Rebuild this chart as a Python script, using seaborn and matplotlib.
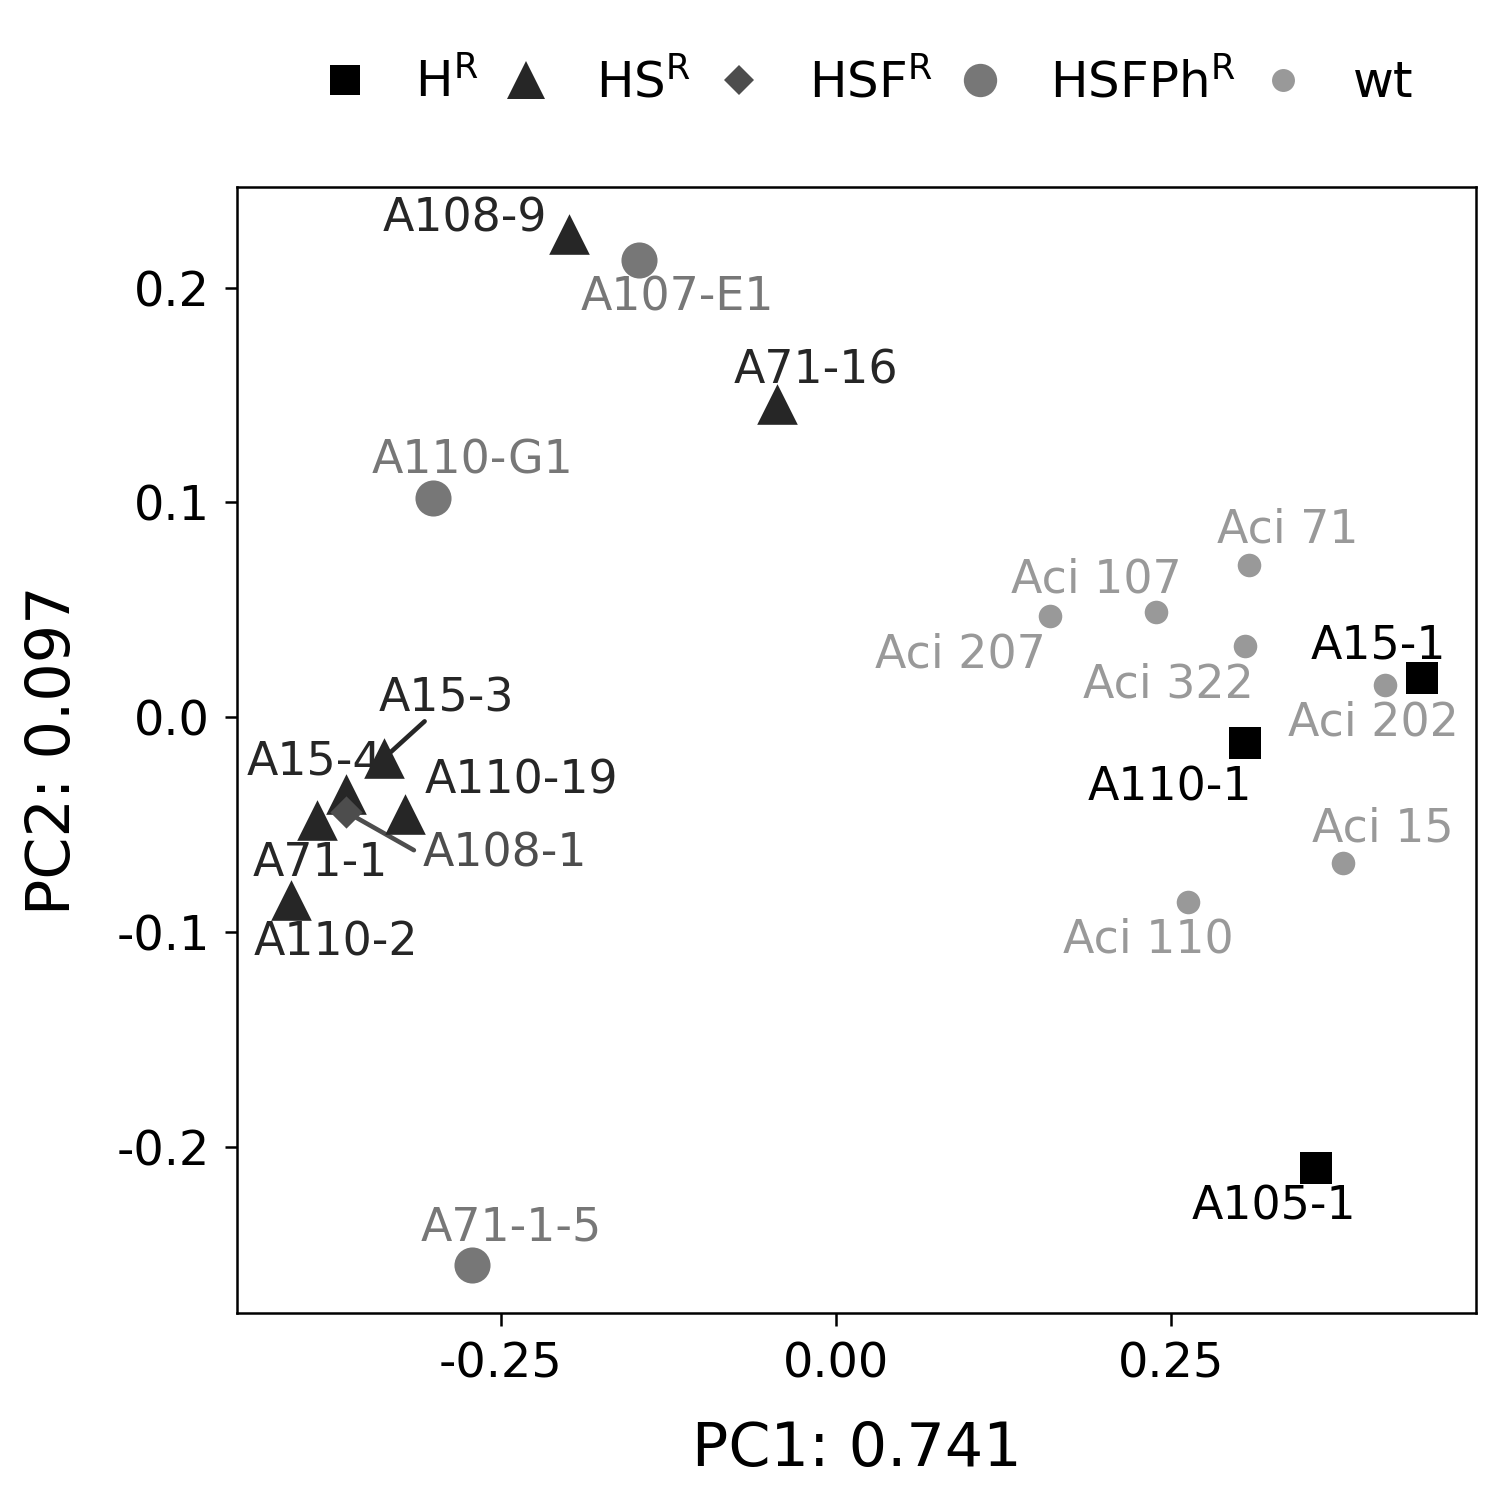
import matplotlib
matplotlib.use("Agg")
import matplotlib.pyplot as plt
import seaborn as sns
import pandas as pd
from matplotlib.lines import Line2D

# ---- data ----
names = ["A15-1", "A110-1", "A105-1",
         "A108-9", "A71-16", "A15-3", "A15-4", "A110-19", "A71-1", "A110-2",
         "A108-1",
         "A107-E1", "A110-G1", "A71-1-5",
         "Aci 71", "Aci 107", "Aci 207", "Aci 322", "Aci 202", "Aci 15", "Aci 110"]
groups = ["H", "H", "H",
          "HS", "HS", "HS", "HS", "HS", "HS", "HS",
          "HSF",
          "HSFPh", "HSFPh", "HSFPh",
          "wt", "wt", "wt", "wt", "wt", "wt", "wt"]
pc1 = [0.437, 0.305, 0.358,
       -0.199, -0.044, -0.337, -0.366, -0.322, -0.387, -0.407,
       -0.366,
       -0.147, -0.301, -0.272,
       0.308, 0.239, 0.160, 0.305, 0.410, 0.378, 0.263]
pc2 = [0.018, -0.012, -0.210,
       0.225, 0.146, -0.019, -0.036, -0.045, -0.048, -0.085,
       -0.044,
       0.213, 0.102, -0.255,
       0.071, 0.049, 0.047, 0.033, 0.015, -0.068, -0.086]
group_order = ["H", "HS", "HSF", "HSFPh", "wt"]
legend_labels = [r"H$^\mathregular{R}$", r"HS$^\mathregular{R}$", r"HSF$^\mathregular{R}$",
                 r"HSFPh$^\mathregular{R}$", "wt"]

# ---- styles ----
colors = {"H": "#000000", "HS": "#262626", "HSF": "#4d4d4d", "HSFPh": "#777777", "wt": "#999999"}
markers = {"H": "s", "HS": "^", "HSF": "D", "HSFPh": "o", "wt": "o"}
sizes = {"H": 60, "HS": 95, "HSF": 30, "HSFPh": 75, "wt": 32}

# label text centres (data units)
label_pos = {
    "A108-9": (-0.277, 0.232), "A71-16": (-0.015, 0.161), "A15-3": (-0.291, 0.0085),
    "A15-4": (-0.389, -0.021), "A110-19": (-0.235, -0.030), "A71-1": (-0.385, -0.068),
    "A110-2": (-0.373, -0.105), "A108-1": (-0.247, -0.064),
    "A107-E1": (-0.118, 0.195), "A110-G1": (-0.271, 0.119), "A71-1-5": (-0.242, -0.238),
    "Aci 71": (0.337, 0.087), "Aci 107": (0.194, 0.064), "Aci 207": (0.093, 0.029),
    "Aci 322": (0.248, 0.015), "Aci 202": (0.401, -0.003), "Aci 15": (0.408, -0.052),
    "Aci 110": (0.233, -0.104), "A15-1": (0.405, 0.033), "A110-1": (0.249, -0.033),
    "A105-1": (0.327, -0.228),
}
arrows = {"A15-3": (-0.307, -0.002), "A108-1": (-0.315, -0.062)}

df = pd.DataFrame({"name": names, "group": groups, "PC1": pc1, "PC2": pc2})

sns.set_theme(style="ticks")
plt.rcParams["font.family"] = ["DejaVu Sans"]

fig = plt.figure(figsize=(5, 5), dpi=300)
ax = fig.add_axes([0.158, 0.1247, 0.826, 0.7506])

for g in group_order:
    sub = df[df["group"] == g]
    sns.scatterplot(data=sub, x="PC1", y="PC2", ax=ax, color=colors[g], marker=markers[g],
                    s=sizes[g], linewidth=0, legend=False, zorder=3)

for _, r in df.iterrows():
    tx, ty = label_pos[r["name"]]
    c = colors[r["group"]]
    ax.text(tx, ty, r["name"], color=c, fontsize=11, ha="center", va="center", zorder=4)
    if r["name"] in arrows:
        sx, sy = arrows[r["name"]]
        ax.plot([sx, r["PC1"]], [sy, r["PC2"]], color=c, lw=1.1, zorder=2)

ax.set_xlim(-0.447, 0.4776)
ax.set_ylim(-0.2775, 0.2468)
ax.set_xticks([-0.25, 0.0, 0.25])
ax.set_xticklabels(["-0.25", "0.00", "0.25"])
ax.set_yticks([-0.2, -0.1, 0.0, 0.1, 0.2])
ax.set_yticklabels(["-0.2", "-0.1", "0.0", "0.1", "0.2"])
ax.tick_params(labelsize=11.5, colors="black", labelcolor="black", length=3, width=0.6,
               direction="out")
for sp in ax.spines.values():
    sp.set_visible(True)
    sp.set_color("black")
    sp.set_linewidth(0.6)
ax.set_xlabel("PC1: 0.741", fontsize=14.5, labelpad=8, color="black")
ax.set_ylabel("PC2: 0.097", fontsize=14.5, labelpad=8, color="black")

handles = [Line2D([], [], linestyle="none", marker=markers[g], color=colors[g],
                  markersize={"H": 7, "HS": 9, "HSF": 5, "HSFPh": 8, "wt": 5.5}[g],
                  markeredgewidth=0) for g in group_order]
fig.legend(handles, legend_labels, loc="center", bbox_to_anchor=(0.578, 0.945), ncol=5,
           frameon=False, fontsize=12, handlelength=1.0, handletextpad=0.9,
           columnspacing=0.45, labelcolor="black")

fig.savefig("out.png", dpi=300)
